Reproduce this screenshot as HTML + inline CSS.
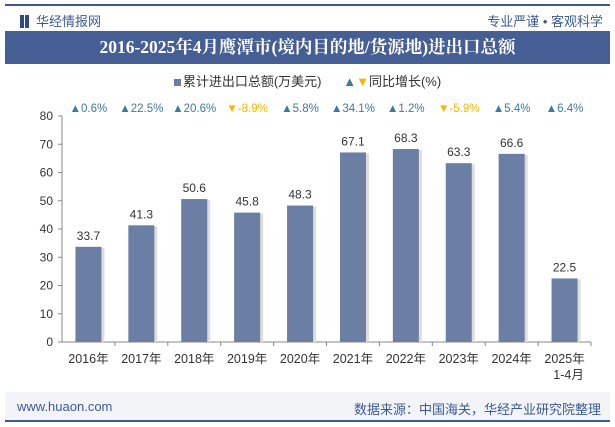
<!DOCTYPE html>
<html><head><meta charset="utf-8"><style>
body{margin:0;width:615px;height:427px;background:#fff;font-family:"Liberation Sans","Noto Sans CJK SC",sans-serif;position:relative;overflow:hidden}
.a{position:absolute}
</style></head><body>
<div class="a" style="left:5px;top:4px;width:605px;height:2px;background:#3d5a96"></div>
<div class="a" style="left:20px;top:11px;font-size:13px;color:#3d5a96"><span style="display:inline-block;width:4px;height:13px;background:#2f4b85;vertical-align:-2px;margin-right:1px"></span><span style="display:inline-block;width:4px;height:13px;background:#2f4b85;vertical-align:-2px;margin-right:7px"></span>华经情报网</div>
<div class="a" style="right:12px;top:11px;font-size:13px;color:#3d5a96">专业严谨 • 客观科学</div>
<div class="a" style="left:5px;top:31px;width:605px;height:33px;background:#455e94;color:#fff;font-family:'Liberation Serif','Noto Serif CJK SC',serif;font-weight:bold;font-size:17.5px;line-height:33px;text-align:center">2016-2025年4月鹰潭市(境内目的地/货源地)进出口总额</div>
<div class="a" style="left:0;width:615px;top:71px;text-align:center;font-size:13px;color:#333"><span style="display:inline-block;width:7px;height:7px;background:#6b7ea3;margin-right:2px"></span>累计进出口总额(万美元) &nbsp;&nbsp;&nbsp;&nbsp; <span style="color:#3d7aa0">▲</span><span style="color:#f5b800">▼</span>同比增长(%)</div>
<svg class="a" style="left:0;top:0" width="615" height="427">
<g id="g"></g></svg>
<div class="a" style="left:5px;top:392px;width:605px;height:28px;background:#f2f4f8"></div>
<div class="a" style="left:5px;top:420px;width:605px;height:2px;background:#3d5a96"></div>
<div class="a" style="left:17px;top:399px;font-size:13px;color:#3d5a96">www.huaon.com</div>
<div class="a" style="right:14px;top:399px;font-size:13px;color:#3d5a96">数据来源：中国海关，华经产业研究院整理</div>
<script>
const categories=["2016年","2017年","2018年","2019年","2020年","2021年","2022年","2023年","2024年","2025年"];
const values=[33.7,41.3,50.6,45.8,48.3,67.1,68.3,63.3,66.6,22.5];
const growth=[0.6,22.5,20.6,-8.9,5.8,34.1,1.2,-5.9,5.4,6.4];
const yTicks=[0,10,20,30,40,50,60,70,80];
const NS="http://www.w3.org/2000/svg",g=document.getElementById('g');
const x0=62,x1=591,y0=342,yTop=116,ymax=80;
const y=v=>y0-(v/ymax)*(y0-yTop);
const bw=(x1-x0)/categories.length;
function mk(t,a,txt){const e=document.createElementNS(NS,t);for(const k in a)e.setAttribute(k,a[k]);if(txt!==undefined)e.textContent=txt;g.appendChild(e);return e;}
let e=mk('line',{x1:x0,y1:yTop,x2:x0,y2:y0,stroke:'#888'});

e=mk('line',{x1:x0,y1:y0,x2:x1,y2:y0,stroke:'#888'});

yTicks.forEach(t=>{mk('line',{x1:x0-4,y1:y(t),x2:x0,y2:y(t),stroke:'#888'});
e=mk('text',{x:x0-9,y:y(t)+4,'text-anchor':'end','font-size':12,fill:'#333'},t);
});
categories.forEach((c,i)=>{const cx=x0+bw*(i+0.5);
mk('line',{x1:x0+bw*(i+1),y1:y0,x2:x0+bw*(i+1),y2:y0+4,stroke:'#888'});
mk('rect',{x:cx-13+3,y:y(values[i])+1,width:26,height:y0-y(values[i])-1,fill:'#ddd'});
e=mk('rect',{x:cx-13,y:y(values[i]),width:26,height:y0-y(values[i]),fill:'#6b7ea3'});

e=mk('text',{x:cx,y:y(values[i])-7,'text-anchor':'middle','font-size':12,fill:'#333'},values[i].toFixed(1));

e=mk('text',{x:cx,y:363,'text-anchor':'middle','font-size':12.5,fill:'#333'},c);

if(i===categories.length-1){e=mk('text',{x:cx+4,y:379,'text-anchor':'middle','font-size':12.5,fill:'#333'},'1-4月');
}
const up=growth[i]>=0;
e=mk('text',{x:cx,y:112,'text-anchor':'middle','font-size':11.5,fill:up?'#3d7aa0':'#f5b800'},(up?'▲':'▼')+growth[i].toFixed(1)+'%');
});
</script>
</body></html>
